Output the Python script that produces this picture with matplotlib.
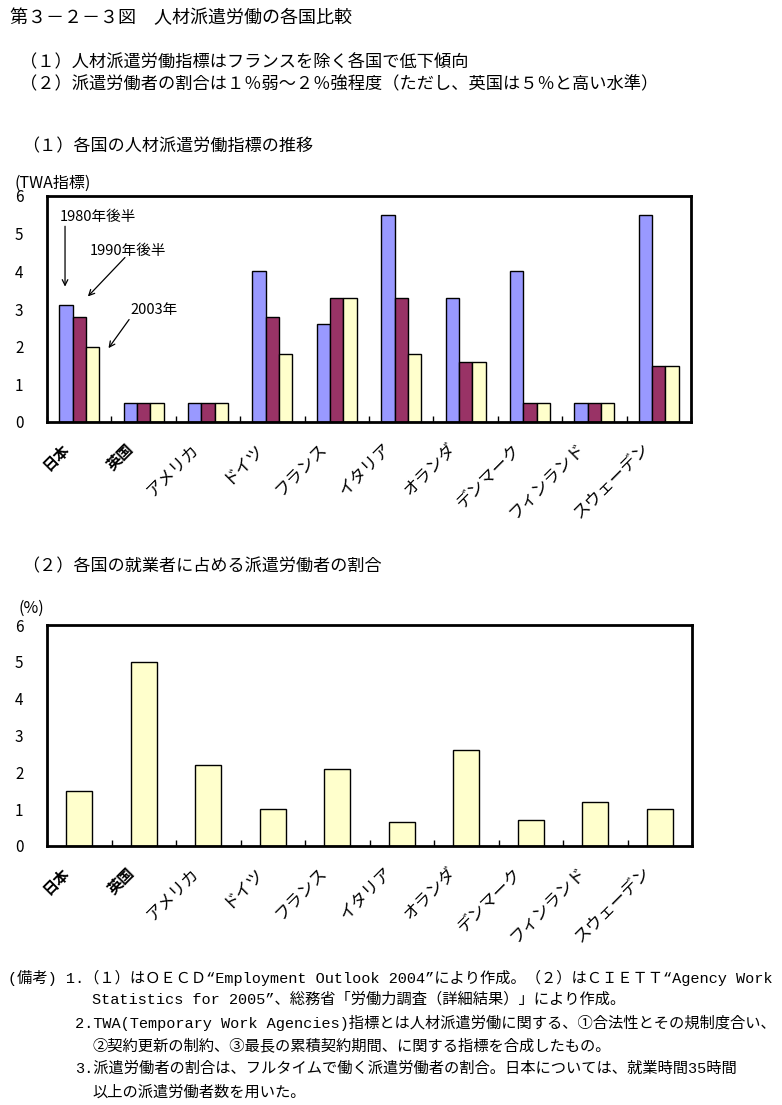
import numpy as np
import matplotlib
matplotlib.use('Agg')
import matplotlib.pyplot as plt
import matplotlib.transforms as mtransforms

plt.rcParams['font.family'] = ['Noto Sans CJK JP', 'DejaVu Sans']

# Data
countries = ['日本', '英国', 'アメリカ', 'ドイツ', 'フランス', 'イタリア',
             'オランダ', 'デンマーク', 'フィンランド', 'スウェーデン']
twa_1980s = [3.1, 0.5, 0.5, 4.0, 2.6, 5.5, 3.3, 4.0, 0.5, 5.5]
twa_1990s = [2.8, 0.5, 0.5, 2.8, 3.3, 3.3, 1.6, 0.5, 0.5, 1.5]
twa_2003 = [2.0, 0.5, 0.5, 1.8, 3.3, 1.8, 1.6, 0.5, 0.5, 1.5]
share_pct = [1.5, 5.0, 2.2, 1.0, 2.1, 0.65, 2.6, 0.7, 1.2, 1.0]
yticks = [0, 1, 2, 3, 4, 5, 6]

C80 = '#9999FF'
C90 = '#993366'
C03 = '#FFFFCC'
MONO = ['Liberation Mono', 'Noto Sans CJK JP']

fig = plt.figure(figsize=(7.82, 11.05), dpi=100)


def fx(px):
    return px / 782.0


def fy(py):
    return 1 - py / 1105.0


def style_axes(ax):
    ax.set_xlim(-0.5, len(countries) - 0.5)
    ax.set_ylim(0, 6)
    ax.set_yticks(yticks)
    ax.set_yticklabels([str(t) for t in yticks], fontsize=11)
    ax.tick_params(axis='y', length=0, pad=17)
    for s in ax.spines.values():
        s.set_linewidth(2)
    # ticks between categories, pointing inward
    ax.set_xticks(np.arange(len(countries) + 1) - 0.5, minor=True)
    ax.tick_params(axis='x', which='minor', direction='in', length=4, width=1)
    ax.set_xticks(np.arange(len(countries)))
    ax.tick_params(axis='x', which='major', length=0, pad=4)
    ax.set_xticklabels(countries, rotation=45, ha='right', va='top',
                       rotation_mode='anchor', fontsize=12)
    off = mtransforms.ScaledTranslation(-13 / 72, -9 / 72, fig.dpi_scale_trans)
    for i, lab in enumerate(ax.get_xticklabels()):
        lab.set_transform(lab.get_transform() + off)
        if i < 2:
            lab.set_fontweight('bold')
            lab.set_fontsize(11)


# header texts
fig.text(fx(10), fy(18), '第３－２－３図　人材派遣労働の各国比較', fontsize=13, va='center')
fig.text(fx(20), fy(62), '（１）人材派遣労働指標はフランスを除く各国で低下傾向', fontsize=12.4, va='center')
fig.text(fx(20), fy(84), '（２）派遣労働者の割合は１％弱～２％強程度（ただし、英国は５％と高い水準）', fontsize=12.4, va='center')
fig.text(fx(22), fy(146), '（１）各国の人材派遣労働指標の推移', fontsize=12.3, va='center')
fig.text(fx(14), fy(183), '(TWA指標)', fontsize=11.5, va='center')

# chart 1
ax1 = fig.add_axes([fx(47), fy(422), fx(691) - fx(47), fy(196) - fy(422)])
x = np.arange(len(countries))
w = 0.207
ax1.bar(x - w, twa_1980s, w, color=C80, edgecolor='black', linewidth=1)
ax1.bar(x, twa_1990s, w, color=C90, edgecolor='black', linewidth=1)
ax1.bar(x + w, twa_2003, w, color=C03, edgecolor='black', linewidth=1)
style_axes(ax1)

ap = dict(arrowstyle='->', color='black', lw=0.9)
ax1.text(-0.30, 5.43, '1980年後半', fontsize=10.5, va='center')
ax1.annotate('', xy=(-0.22, 3.52), xytext=(-0.22, 5.27), arrowprops=ap)
ax1.text(0.17, 4.53, '1990年後半', fontsize=10.5, va='center')
ax1.annotate('', xy=(0.105, 3.28), xytext=(0.74, 4.42), arrowprops=ap)
ax1.text(0.79, 2.97, '2003年', fontsize=10.5, va='center')
ax1.annotate('', xy=(0.43, 1.90), xytext=(0.80, 2.78), arrowprops=ap)

# chart 2
fig.text(fx(22), fy(566), '（２）各国の就業者に占める派遣労働者の割合', fontsize=12.3, va='center')
fig.text(fx(18), fy(608), '(%)', fontsize=11.5, va='center')
ax2 = fig.add_axes([fx(47), fy(846), fx(692) - fx(47), fy(625) - fy(846)])
ax2.bar(x, share_pct, 0.4, color=C03, edgecolor='black', linewidth=1)
style_axes(ax2)

# notes
notes = [
    (8, 978, '(備考) 1.（１）はＯＥＣＤ“Employment Outlook 2004”により作成。（２）はＣＩＥＴＴ“Agency Work'),
    (92, 999, 'Statistics for 2005”、総務省「労働力調査（詳細結果）」により作成。'),
    (75, 1023, '2.TWA(Temporary Work Agencies)指標とは人材派遣労働に関する、①合法性とその規制度合い、'),
    (92, 1046, '②契約更新の制約、③最長の累積契約期間、に関する指標を合成したもの。'),
    (75, 1069, '3.派遣労働者の割合は、フルタイムで働く派遣労働者の割合。日本については、就業時間35時間'),
    (92, 1092, '以上の派遣労働者数を用いた。'),
]
for px, py, s in notes:
    fig.text(fx(px), fy(py), s, fontsize=11, va='center', family=MONO)

fig.savefig('out.png', dpi=100)
